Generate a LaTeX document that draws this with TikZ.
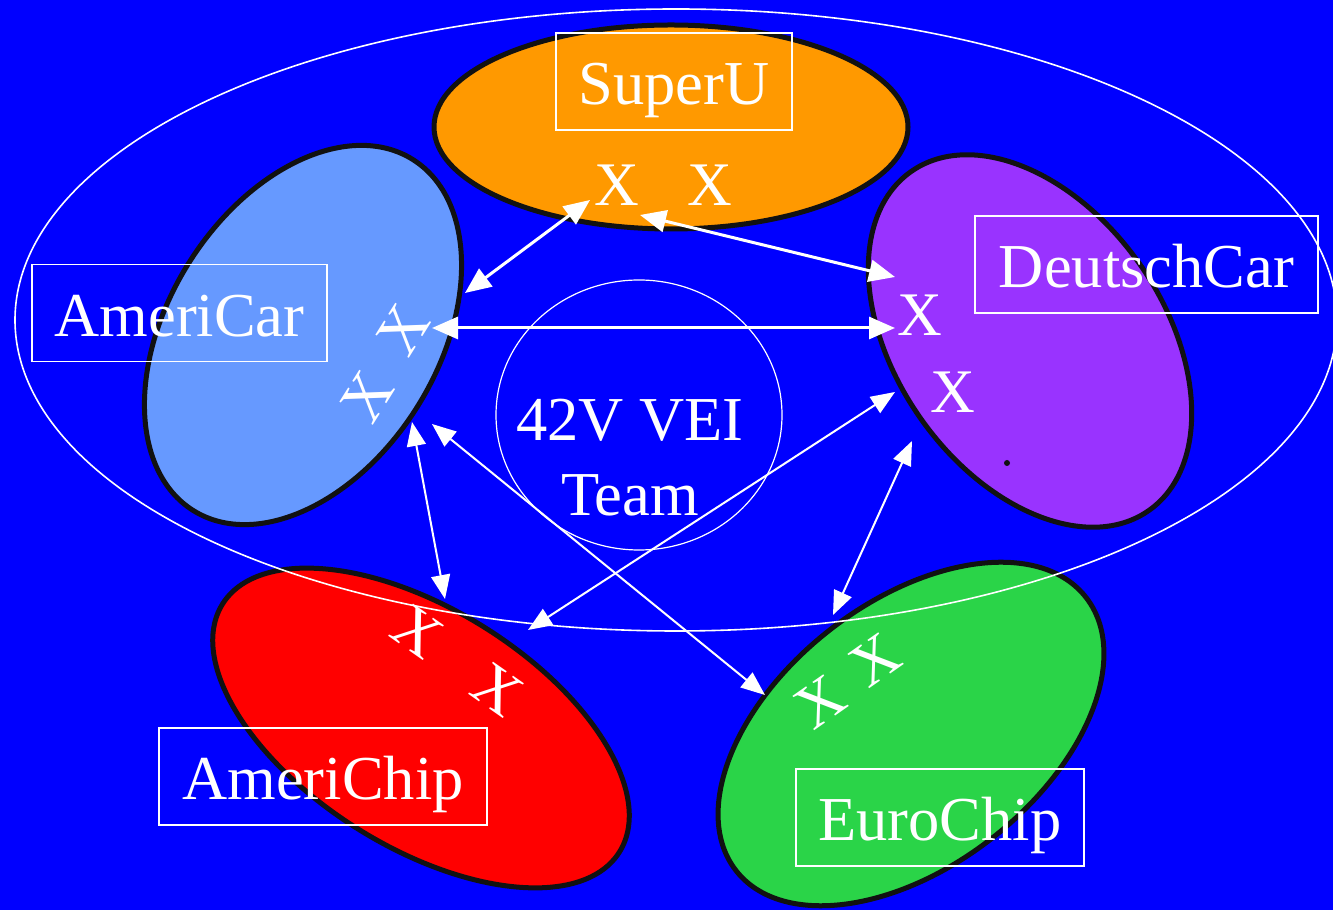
\documentclass[tikz,border=0pt]{standalone}
\usepackage{fontspec}
\setmainfont{Liberation Serif}
\usetikzlibrary{shapes.geometric,arrows.meta}
\definecolor{bgblue}{HTML}{0000FF}
\definecolor{superorange}{HTML}{FF9900}
\definecolor{amerblue}{HTML}{6699FF}
\definecolor{deutschpurple}{HTML}{9933FF}
\definecolor{chipred}{HTML}{FF0000}
\definecolor{chipgreen}{HTML}{2AD448}
\definecolor{rim}{HTML}{111111}
\begin{document}
\begin{tikzpicture}[x=1pt,y=1pt,
  blob/.style={ellipse, draw=rim, line width=5pt, inner sep=0pt},
  ring/.style={ellipse, draw=white, inner sep=0pt},
  namebox/.style={draw=white, line width=1.3pt, text=white, inner sep=0pt,
    minimum height=97pt, font=\fontsize{62.5}{75}\selectfont,
    text height=47pt, text depth=0pt},
  xmark/.style={text=white, inner sep=0pt, font=\fontsize{62}{75}\selectfont},
  bigtext/.style={text=white, align=center, font=\fontsize{62.5}{75}\selectfont},
  link/.style={white, line width=3pt,
    {Triangle[length=26pt,width=22pt]}-{Triangle[length=26pt,width=22pt]}},
  thinlink/.style={white, line width=2pt,
    {Triangle[length=24pt,width=19pt]}-{Triangle[length=24pt,width=19pt]}}]

% background
\fill[bgblue] (0,0) rectangle (1333,910);
\useasboundingbox (0,0) rectangle (1333,910);

% partner ellipses
\node[blob, fill=superorange, minimum width=474pt, minimum height=204pt] (superu) at (671,783) {};
\node[blob, fill=amerblue, minimum width=414pt, minimum height=270pt, rotate=58] (americar) at (303,575) {};
\node[blob, fill=deutschpurple, minimum width=414pt, minimum height=268pt, rotate=-55] (deutschcar) at (1030,569) {};
\node[blob, fill=chipred, minimum width=468pt, minimum height=238pt, rotate=-32] (americhip) at (421,182) {};
\node[blob, fill=chipgreen, minimum width=444pt, minimum height=264pt, rotate=38] (eurochip) at (911,176) {};

% outer team ellipse and core circle
\node[ring, line width=1.6pt, minimum width=1322pt, minimum height=622pt] (team) at (676,590) {};
\node[ring, line width=1.2pt, minimum width=286pt, minimum height=270pt] (core) at (639,495) {};
\node[bigtext] (corelabel) at (630,452) {42V VEI\\Team};

% name boxes
\node[namebox, minimum width=236pt] (superubox) at (674,828.5) {SuperU};
\node[namebox, minimum width=295pt] (americarbox) at (179.5,597) {AmeriCar};
\node[namebox, minimum width=343pt] (deutschcarbox) at (1146.5,645.5) {DeutschCar};
\node[namebox, minimum width=328pt] (americhipbox) at (323,133.5) {AmeriChip};
\node[namebox, minimum width=288pt] (eurochipbox) at (940,92.5) {EuroChip};

% member marks
\node[xmark] (xs1) at (617,725) {X};
\node[xmark] (xs2) at (710,725) {X};
\node[xmark] (xd1) at (920,595) {X};
\node[xmark] (xd2) at (953,518) {X};
\node[xmark, rotate=58] (xa1) at (403,580) {X};
\node[xmark, rotate=58] (xa2) at (367,513) {X};
\node[xmark, rotate=-35] (xc1) at (417,278) {X};
\node[xmark, rotate=-35] (xc2) at (497,220) {X};
\node[xmark, rotate=35] (xe1) at (820,208) {X};
\node[xmark, rotate=35] (xe2) at (875,250) {X};

% small dot
\fill[rim] (1007,447) circle (3pt);

% arrow end points
\coordinate (sA) at (590,710);
\coordinate (aS) at (465,617);
\coordinate (sD) at (640,695);
\coordinate (dS) at (895,633);
\coordinate (aD) at (432,582);
\coordinate (dA) at (895,582);
\coordinate (aC) at (412,488);
\coordinate (cA) at (445,311);
\coordinate (aE) at (432,486);
\coordinate (eA) at (765,215);
\coordinate (dC) at (895,518);
\coordinate (cD) at (528,280);
\coordinate (dE) at (912,469);
\coordinate (eD) at (833,295);

% links
\draw[link] (sA) -- (aS);
\draw[link] (sD) -- (dS);
\draw[link] (aD) -- (dA);
\draw[thinlink] (aC) -- (cA);
\draw[thinlink] (aE) -- (eA);
\draw[thinlink] (dC) -- (cD);
\draw[thinlink] (dE) -- (eD);
\end{tikzpicture}
\end{document}
